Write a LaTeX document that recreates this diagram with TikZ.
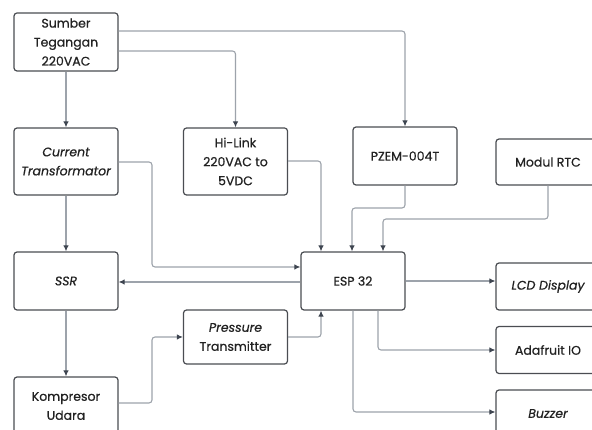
\documentclass[tikz,border=0pt]{standalone}
\usepackage{fontspec}
\setmainfont{Poppins}[FakeBold=0.6]
\usetikzlibrary{arrows.meta,calc}
\definecolor{boxline}{HTML}{4A4D52}
\definecolor{conline}{HTML}{9DA3AB}
\definecolor{tipcol}{HTML}{3E4550}
\definecolor{txt}{HTML}{222222}
\tikzset{
  blk/.style={draw=boxline, line width=1.2pt, rounded corners=3pt, fill=white,
    minimum width=104pt, align=center, inner sep=2pt, text=txt,
    font=\fontsize{12.5}{19}\selectfont},
  conn/.style={draw=conline, line width=1.1pt, rounded corners=3pt,
    -{Latex[length=6pt,width=5.5pt,color=tipcol]}},
}
\begin{document}
\begin{tikzpicture}[x=1pt,y=-1pt]
\useasboundingbox (0,0) rectangle (592,430);
\clip (0,0) rectangle (592,430);
\fill[white] (0,0) rectangle (592,430);
% nodes
\node[blk, minimum height=58pt] (sumber) at (66,42) {Sumber\\Tegangan\\220VAC};
\node[blk, minimum height=67pt] (ct) at (66,161.5) {\itshape Current\\\itshape Transformator};
\node[blk, minimum height=58pt] (ssr) at (66,281) {\itshape SSR};
\node[blk, minimum height=58pt] (komp) at (66,406) {Kompresor\\Udara};
\node[blk, minimum height=67pt] (hilink) at (235.5,161.5) {Hi-Link\\220VAC to\\5VDC};
\node[blk, minimum height=58pt] (pzem) at (405,156) {PZEM-004T};
\node[blk, minimum height=46pt] (rtc) at (548,162) {Modul RTC};
\node[blk, minimum height=58pt] (esp) at (353,281) {ESP 32};
\node[blk, minimum height=54pt] (press) at (235.5,337) {\itshape Pressure\\Transmitter};
\node[blk, minimum height=47pt] (lcd) at (548,286.5) {\itshape LCD Display};
\node[blk, minimum height=47pt] (ada) at (548,350) {Adafruit IO};
\node[blk, minimum height=47pt] (buzz) at (548,413.5) {\itshape Buzzer};
% connectors
\draw[conn] (sumber) -- (ct);
\draw[conn] (sumber.east |- 0,31) -| (pzem.north);
\draw[conn] (sumber.east |- 0,51) -| (hilink.north);
\draw[conn] (ct) -- (ssr);
\draw[conn] (ssr) -- (komp);
\draw[conn] (ct.east |- 0,162) -| (152,267) -- (esp.west |- 0,267);
\draw[conn] (esp.west |- 0,282) -- (ssr.east |- 0,282);
\draw[conn] (hilink.east |- 0,161) -| (esp.north -| 321,0);
\draw[conn] (pzem.south) |- (352,208) -- (esp.north -| 352,0);
\draw[conn] (rtc.south) |- (383,219) -- (esp.north -| 383,0);
\draw[conn] (komp.east |- 0,403) -| (152,337) -- (press.west);
\draw[conn] (press.east) -| (esp.south -| 321,0);
\draw[conn] (esp.east |- 0,281) -- (lcd.west |- 0,281);
\draw[conn] (esp.south -| 378,0) |- (ada.west);
\draw[conn] (esp.south -| 353,0) |- (buzz.west |- 0,412);
\end{tikzpicture}
\end{document}
